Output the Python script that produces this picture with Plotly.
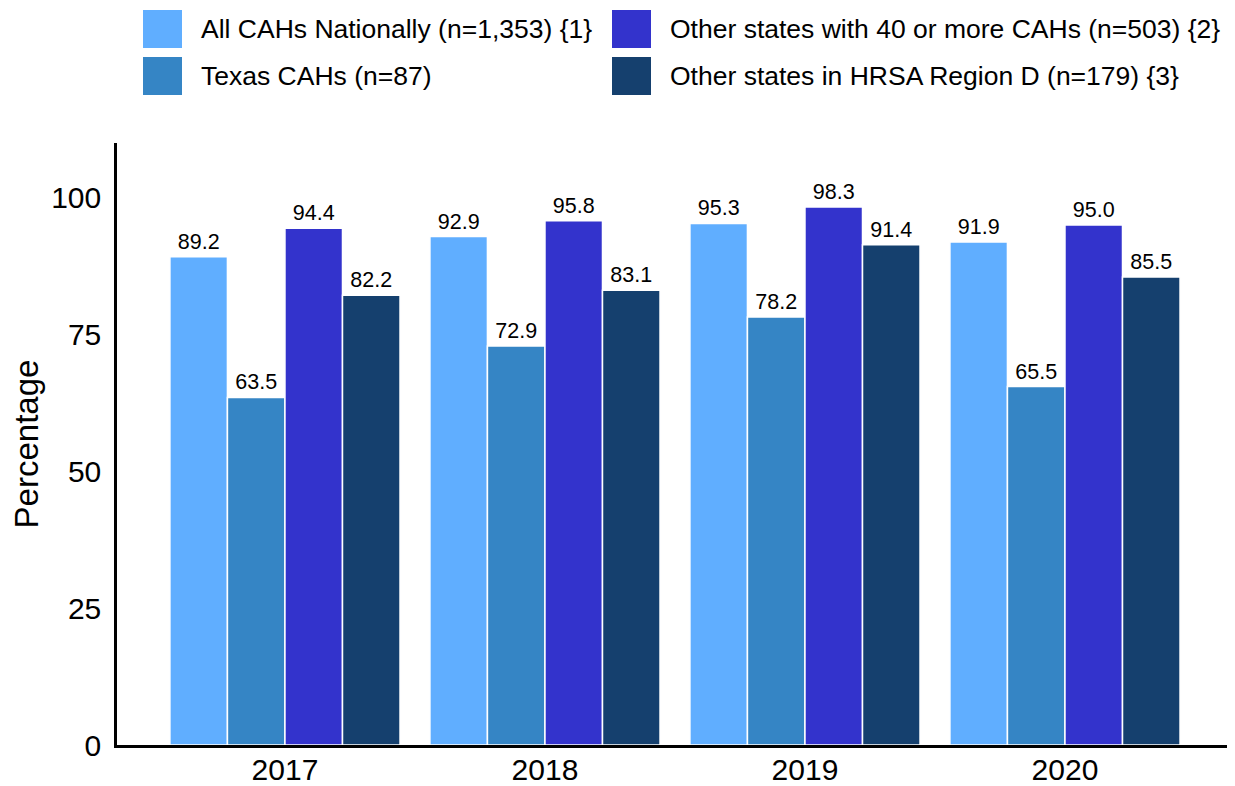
import plotly.graph_objects as go

years = ["2017", "2018", "2019", "2020"]
series_names = [
    "All CAHs Nationally (n=1,353) {1}",
    "Texas CAHs (n=87)",
    "Other states with 40 or more CAHs (n=503) {2}",
    "Other states in HRSA Region D (n=179) {3}",
]
all_cahs = [89.2, 92.9, 95.3, 91.9]
texas = [63.5, 72.9, 78.2, 65.5]
other_40 = [94.4, 95.8, 98.3, 95.0]
region_d = [82.2, 83.1, 91.4, 85.5]
colors = ["#60AEFF", "#3585C5", "#3333CC", "#15406E"]
y_ticks = [0, 25, 50, 75, 100]

values = [all_cahs, texas, other_40, region_d]
FONT = "Liberation Sans, Arial, sans-serif"

# page has an 8px body margin; shift the figure so the visible window matches
OFF = 8
W, H = 1235 - OFF, 786 - OFF
L, R, T, B = 117 - OFF, 7, 143 - OFF, 41
PW, PH = W - L - R, H - T - B
PL, PT = L + OFF, T + OFF  # plot-area origin in page pixels

fig = go.Figure()
for name, vals, col in zip(series_names, values, colors):
    fig.add_trace(go.Bar(
        x=years, y=vals, name=name,
        marker=dict(color=col, line=dict(color="white", width=1.5)),
        text=[f"{v:.1f}" for v in vals],
        textposition="outside",
        textfont=dict(size=21.5, color="black", family=FONT),
        cliponaxis=False,
        showlegend=False,
    ))

# custom legend (large swatches), page-pixel positions converted to paper coords
leg_pos = [(143, 10), (143, 57), (612, 10), (612, 57)]
shapes = []
annotations = []
for (px, py), name, col in zip(leg_pos, series_names, colors):
    shapes.append(dict(type="rect", xref="paper", yref="paper",
                       x0=(px - PL) / PW, x1=(px + 39 - PL) / PW,
                       y0=(PT + PH - (py + 38)) / PH, y1=(PT + PH - py) / PH,
                       fillcolor=col, line=dict(width=0)))
    annotations.append(dict(xref="paper", yref="paper",
                            x=(px + 56 - PL) / PW, y=(PT + PH - (py + 19)) / PH,
                            text=name, showarrow=False, xanchor="left", yanchor="middle",
                            font=dict(size=26.5, color="black", family=FONT)))

fig.update_layout(
    width=W, height=H,
    margin=dict(l=L, r=R, t=T, b=B, autoexpand=False),
    paper_bgcolor="white", plot_bgcolor="white",
    barmode="group", bargap=0.115, bargroupgap=0,
    font=dict(family=FONT, color="black"),
    shapes=shapes, annotations=annotations,
    showlegend=False,
)
fig.update_xaxes(
    type="category", range=[-0.646, 3.627], automargin=False,
    showline=True, linecolor="black", linewidth=2.5,
    ticks="", showgrid=False, zeroline=False,
    ticklabelstandoff=-4,
    tickfont=dict(size=30, family=FONT, color="black"),
)
fig.update_yaxes(
    range=[0, 110], tickvals=y_ticks, automargin=False,
    showline=True, linecolor="black", linewidth=2.5,
    ticks="", showgrid=False, zeroline=False,
    ticklabelstandoff=7,
    tickfont=dict(size=30, family=FONT, color="black"),
    title=dict(text="Percentage", font=dict(size=33, family=FONT, color="black"), standoff=12),
)

fig.write_html("out.html")
